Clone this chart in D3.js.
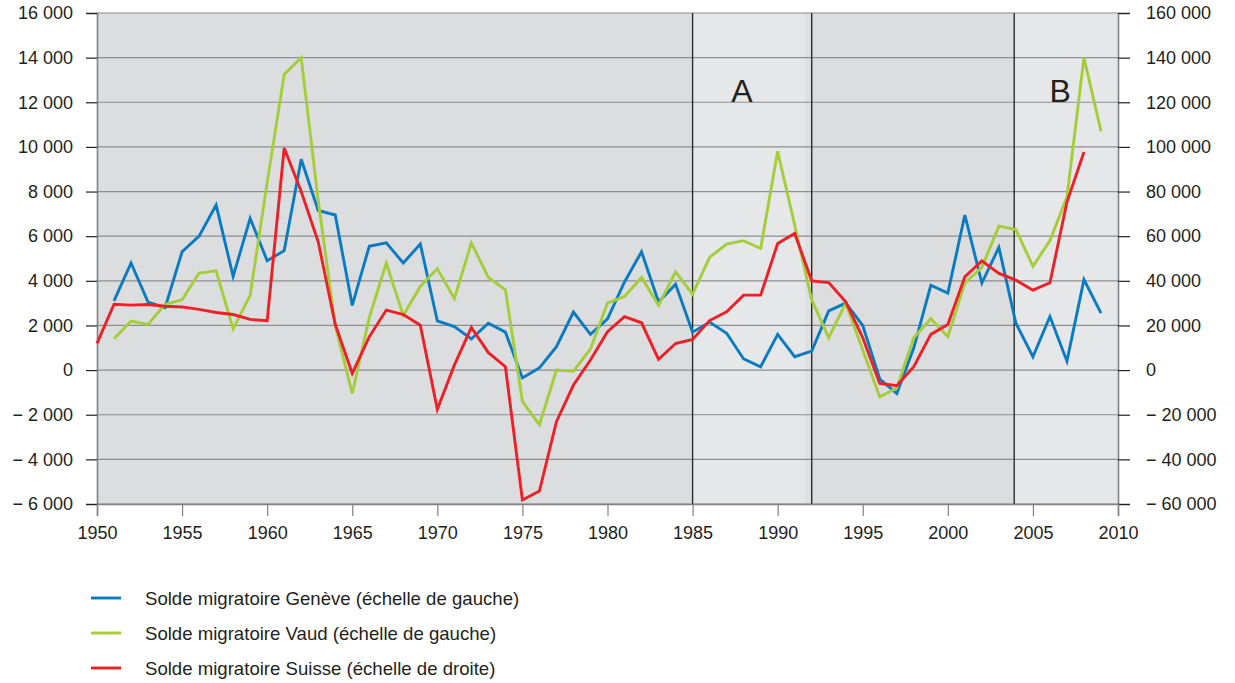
<!DOCTYPE html>
<html>
<head>
<meta charset="utf-8">
<script src="https://cdn.jsdelivr.net/npm/d3@7"></script>
<style>
  body { margin: 0; background: #fff; }
  svg { display: block; font-family: "Liberation Sans", Arial, sans-serif; }
</style>
</head>
<body>
<svg id="chart" width="1235" height="683"></svg>
<script>
// years on the x axis
var years = d3.range(1950, 2010)

// solde migratoire Genève (left scale), 1950..2009
var geneve = [null, 3100, 4800, 3050, 2800, 5300, 6000, 7400, 4200, 6800,
  4900, 5350, 9450, 7150, 6950, 2900, 5550, 5700, 4800, 5650,
  2200, 1950, 1400, 2100, 1700, -350, 100, 1050, 2600, 1600,
  2300, 3950, 5300, 3050, 3850, 1700, 2150, 1650, 500, 150,
  1600, 600, 850, 2650, 3000, 2000, -400, -1050, 1000, 3800,
  3450, 6950, 3900, 5500, 2100, 600, 2400, 400, 4050, 2550]

// solde migratoire Vaud (left scale)
var vaud = [null, 1400, 2200, 2050, 2950, 3150, 4350, 4450, 1850, 3350,
  8400, 13250, 14000, 7600, 2000, -1050, 2350, 4800, 2450, 3750,
  4550, 3200, 5700, 4150, 3600, -1400, -2450, 0, -50, 950,
  3000, 3300, 4150, 2900, 4400, 3400, 5050, 5650, 5800, 5450,
  9800, 6500, 3150, 1450, 3000, 900, -1200, -800, 1450, 2300,
  1500, 3900, 4600, 6450, 6300, 4650, 5800, 7750, 14000, 10700]

// solde migratoire Suisse (right scale)
var suisse = [12000, 29500, 29100, 29400, 28600, 28300, 27200, 25800, 24900, 22700,
  22100, 99500, 80000, 57500, 20500, -1500, 14900, 26900, 24900, 20100,
  -17600, 2200, 19100, 7800, 1500, -58200, -54200, -23100, -6700, 4500,
  17200, 23900, 21200, 4800, 11900, 13700, 22200, 26100, 33600, 33600,
  56700, 61200, 40000, 39200, 30600, 14500, -6000, -7000, 1500, 16000,
  20400, 41800, 48900, 43300, 40300, 35800, 39100, 75300, 97700, null]

var leftTicks = d3.range(-6000, 16001, 2000)
var rightTicks = d3.range(-60000, 160001, 20000)
var xTicks = d3.range(1950, 2011, 5)

// background periods (darker / lighter) and separators
var bands = [
  {from: 1950, to: 1985, fill: '#dcdddf'},
  {from: 1985, to: 1991.6, fill: '#e6e7e9'},
  {from: 1991.6, to: 1992, fill: '#dedfe1'},
  {from: 1992, to: 2003.9, fill: '#dcdddf'},
  {from: 2003.9, to: 2010, fill: '#e6e7e9'}
]
var separators = [1985, 1992, 2003.9]
var periodLabels = [{text: 'A', year: 1987.9}, {text: 'B', year: 2006.6}]

var series = [
  {name: 'Solde migratoire Genève (échelle de gauche)', values: geneve, color: '#0a7bc1', axis: 'left'},
  {name: 'Solde migratoire Vaud (échelle de gauche)', values: vaud, color: '#a5cd39', axis: 'left'},
  {name: 'Solde migratoire Suisse (échelle de droite)', values: suisse, color: '#ee2027', axis: 'right'}
]

var margin = {top: 13, left: 97, right: 1118, bottom: 504}
var svg = d3.select('#chart')
var fontSize = 18

var x = d3.scaleLinear().domain([1950, 2010]).range([margin.left, margin.right])
var yL = d3.scaleLinear().domain([-6000, 16000]).range([margin.bottom, margin.top])
var yR = d3.scaleLinear().domain([-60000, 160000]).range([margin.bottom, margin.top])

var loc = d3.formatLocale({decimal: ',', thousands: ' ', grouping: [3], currency: ['', '']})
var num = loc.format(',d')
function fmt (v) { return v < 0 ? '\u2212 ' + num(-v) : num(v) }

// bands
svg.append('g').selectAll('rect').data(bands).join('rect')
  .attr('x', d => x(d.from))
  .attr('width', d => x(d.to) - x(d.from))
  .attr('y', margin.top)
  .attr('height', margin.bottom - margin.top)
  .attr('fill', d => d.fill)

// gridlines
svg.append('g').selectAll('line').data(leftTicks).join('line')
  .attr('x1', margin.left).attr('x2', margin.right)
  .attr('y1', d => yL(d)).attr('y2', d => yL(d))
  .attr('stroke', '#8d8e90').attr('stroke-width', 1.2)

// period separators
svg.append('g').selectAll('line').data(separators).join('line')
  .attr('x1', d => x(d)).attr('x2', d => x(d))
  .attr('y1', margin.top).attr('y2', margin.bottom)
  .attr('stroke', '#2b2b2b').attr('stroke-width', 1.4)

svg.append('g').selectAll('text').data(periodLabels).join('text')
  .attr('x', d => x(d.year)).attr('y', 102)
  .attr('text-anchor', 'middle')
  .attr('font-size', 32).attr('fill', '#231f20')
  .text(d => d.text)

function styleAxis (g, tickColor) {
  g.select('.domain').attr('stroke', '#808184').attr('stroke-width', 1.6)
  g.selectAll('.tick line').attr('stroke', tickColor).attr('stroke-width', 1.2)
  g.selectAll('.tick text').attr('font-size', fontSize).attr('fill', '#231f20')
    .attr('font-family', '"Liberation Sans", Arial, sans-serif')
}

// left axis
var gl = svg.append('g').attr('transform', 'translate(' + margin.left + ',0)')
  .call(d3.axisLeft(yL).tickValues(leftTicks).tickFormat(fmt).tickSize(11).tickPadding(13))
styleAxis(gl, '#231f20')

// right axis
var gr = svg.append('g').attr('transform', 'translate(' + margin.right + ',0)')
  .call(d3.axisRight(yR).tickValues(rightTicks).tickFormat(fmt).tickSize(12).tickPadding(16))
styleAxis(gr, '#231f20')

// bottom axis
var gx = svg.append('g').attr('transform', 'translate(0,' + margin.bottom + ')')
  .call(d3.axisBottom(x).tickValues(xTicks).tickFormat(d3.format('d')).tickSize(12).tickPadding(10))
styleAxis(gx, '#808184')

// lines
series.forEach(function (s) {
  var ys = s.axis === 'left' ? yL : yR
  var line = d3.line()
    .defined(d => d[1] !== null)
    .x(d => x(d[0]))
    .y(d => ys(d[1]))
  svg.append('path')
    .datum(years.map((yr, i) => [yr, s.values[i]]))
    .attr('d', line)
    .attr('fill', 'none')
    .attr('stroke', s.color)
    .attr('stroke-width', 2.9)
    .attr('stroke-linejoin', 'miter')
})

// legend
var lg = svg.append('g').selectAll('g').data(series).join('g')
  .attr('transform', (d, i) => 'translate(91,' + (598 + i * 35) + ')')
lg.append('line').attr('x1', 0).attr('x2', 30)
  .attr('stroke', d => d.color).attr('stroke-width', 2.9)
lg.append('text').attr('x', 54).attr('y', 6.5)
  .attr('font-size', 18.6).attr('fill', '#231f20')
  .text(d => d.name)
</script>
</body>
</html>
